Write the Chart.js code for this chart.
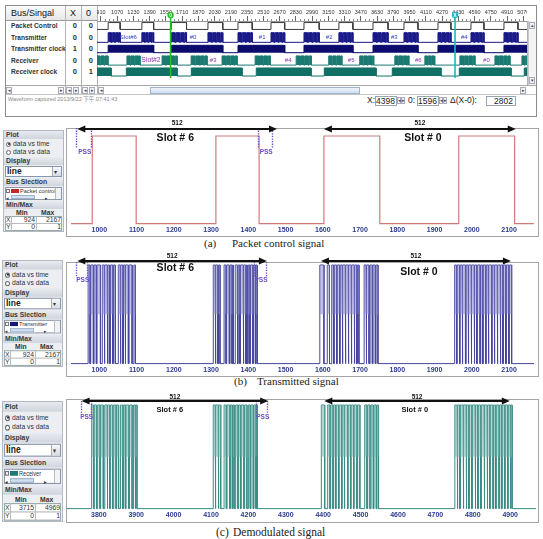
<!DOCTYPE html>
<html><head><meta charset="utf-8">
<script src="https://cdn.jsdelivr.net/npm/chart.js@4.4.1/dist/chart.umd.min.js"></script>
<style>
html,body{margin:0;padding:0;}
body{width:543px;height:539px;position:relative;overflow:hidden;background:#fff;font-family:Arial,"Liberation Sans",sans-serif;color:#222;}
.a{position:absolute;box-sizing:border-box;}
canvas{position:absolute;}
.rowlab{position:absolute;left:11px;font-size:6.6px;font-weight:bold;color:#333;line-height:8px;white-space:nowrap;}
.num{position:absolute;font-size:7.5px;font-weight:bold;color:#333;line-height:8px;text-align:right;width:10px;}
.pnl{position:absolute;width:61px;height:102px;background:#eceef2;border:1px solid #b4b8c2;transform-origin:0 0;box-sizing:border-box;}
.ph{position:absolute;left:0;width:59px;height:8px;background:linear-gradient(#e8ebf0,#d0d4dc);font-size:6.8px;font-weight:bold;color:#3a3a3a;line-height:8px;padding-left:2px;box-sizing:border-box;}
.pt{position:absolute;font-size:6.8px;color:#333;line-height:8px;white-space:nowrap;}
.cap{position:absolute;font-family:"Liberation Serif","Times New Roman",serif;color:#222;white-space:nowrap;line-height:12px;}
.box{position:absolute;background:#fff;border:1px solid #9aa3b2;box-sizing:border-box;font-size:8.5px;text-align:right;padding-right:2px;line-height:9px;color:#222;}
.sb{position:absolute;width:6px;height:7px;border:1px solid #aab;background:#f3f4f7;box-sizing:border-box;font-size:5px;line-height:5px;text-align:center;color:#445;}
</style></head><body>
<script>
// ---------------- DATA ----------------
// top waveform viewer
const topTickLabels = [910,1070,1230,1390,1550,1710,1870,2030,2190,2350,2510,2670,2830,2990,3150,3310,3470,3630,3790,3950,4110,4270,4430,4590,4750,4910,5070];
const topRange = [871, 5107];
const topSignalNames = ['Packet Control','Transmitter','Transmitter clock','Receiver','Receiver clock'];
const topColX = [0,0,1,0,0];
const topCol0 = [0,0,0,0,1];
const topPacketEdges = [981,1099,1313,1429,1603,1753,1964,2110,2260,2400,2585,2720,2910,3060,3254,3392,3590,3738,3895,4033,4230,4358,4555,4683,4880,5018];
const topTxEdges = [981,1012,1022,1044,1054,1078,1086,1099,
 1313,1340,1350,1372,1382,1408,1416,1429,
 1603,1640,1650,1686,1696,1726,1736,1753,
 1964,2000,2010,2040,2050,2080,2090,2110,
 2260,2292,2302,2334,2344,2372,2382,2400,
 2585,2616,2626,2656,2666,2694,2704,2720,
 2910,2944,2954,2990,3000,3030,3040,3060,
 3254,3286,3296,3326,3336,3366,3376,3392,
 3590,3624,3634,3668,3678,3710,3720,3738,
 3895,3926,3936,3966,3976,4006,4016,4033,
 4230,4260,4270,4300,4310,4336,4346,4358,
 4555,4586,4596,4626,4636,4662,4672,4683,
 4880,4914,4924,4956,4966,4996,5006,5018];
const topTxClkEdges = [981,1429,1603,2110,2260,2720,2910,3392,3590,4033,4230,4683,4880,5107];
const topRxEdges = [871,900,910,940,950,979,
 1166,1196,1206,1236,1246,1276,1284,1295,
 1512,1546,1556,1590,1600,1632,1642,1660,
 1798,1834,1844,1880,1890,1924,1934,1955,
 2103,2136,2146,2180,2190,2222,2232,2251,
 2429,2462,2472,2506,2516,2548,2558,2577,
 2833,2866,2876,2910,2920,2952,2962,2981,
 3154,3184,3194,3224,3234,3264,3272,3283,
 3459,3490,3500,3532,3542,3574,3584,3597,
 3805,3836,3846,3878,3888,3920,3930,3943,
 4101,4124,4134,4158,4168,4190,4196,4200,
 4446,4480,4490,4524,4534,4566,4576,4594,
 4791,4824,4834,4868,4878,4910,4920,4939,
 5057,5080,5090,5107];
const topRxClkEdges = [871,1010,1160,1660,1800,2300,2440,2980,3110,3620,3780,4260,4440,4950,5080,5107];
const topTxSlotLabels = ['Slot#6','#0','#1','#2','#3','#4'];
const topTxSlotAt = [1180,1817,2498,3158,3800,4490];
const topRxSlotLabels = ['Slot#2','#3','#4','#5','#6','#0'];
const topRxSlotAt = [1403,2015,2754,3375,4036,4707];
const cursor0 = 1596, cursorX = 4398, cursorDelta = 2802;

// (a) packet control
const pcRange = [924, 2167];
const pcTicks = [1000,1100,1200,1300,1400,1500,1600,1700,1800,1900,2000,2100];
const pcEdges = [981,1099,1313,1429,1603,1753,1965,2115];
const pcArrows = [[941,1477],[1603,2118]];
const pcPss = [[941,981],[1429,1467]];
const pcSlots = [['Slot # 6',1204],['Slot # 0',1869]];

// (b) transmitted
const txRange = [924, 2167];
const txTicks = [1000,1100,1200,1300,1400,1500,1600,1700,1800,1900,2000,2100];
const txEdges = [970,975,977,984,986,992,994,1003,
 1008,1013,1015,1021,1023,1027,1030,1036,1038,1043,
 1051,1056,1058,1063,1065,1069,1071,1078,1080,1088,
 1093,1097,
 1306,1311,1313,1318,1320,1324,
 1335,1340,1342,1349,1351,1356,1358,1360,
 1365,1371,1373,1377,1379,1386,1388,1393,1395,1397,
 1400,1404,1406,1412,1414,1419,1421,1424,
 1592,1603,1612,1618,
 1624,1629,1631,1637,1639,1645,1647,1652,1654,1660,1662,1668,1670,1676,1678,1684,1686,1691,1693,1697,
 1711,1716,1718,1724,1727,1733,1735,1741,1743,1748,
 1954,1959,1961,1967,1969,1974,1976,1983,1985,1990,1992,1998,2000,2006,2008,2013,2015,2022,2024,2029,
 2031,2037,2039,2044,2046,2053,2055,2060,2062,2068,2070,2076,2078,2083,2085,2091,2093,2099,2101,2107];
const txArrows = [[941,1450],[1595,2105]];
const txPss = [[941,970],[1418,1450]];
const txSlots = [['Slot # 6',1204],['Slot # 0',1858]];

// (c) demodulated
const rxRange = [3715, 4969];
const rxTicks = [3800,3900,4000,4100,4200,4300,4400,4500,4600,4700,4800,4900];
const rxEdges = [3781,3786,3788,3794,3797,3803,3805,3812,3816,3822,3824,3829,3831,3837,3840,3846,3848,3853,3858,3864,3866,3871,3873,3880,3882,3889,3893,3897,3899,3902,
 4106,4111,4113,4119,4121,4126,4135,4141,4143,4150,4152,4157,4159,4162,4166,4172,4174,4179,4181,4188,4190,4196,4200,4205,4207,4213,4215,4220,4222,4224,
 4395,4404,4412,4418,4420,4426,4428,4433,4435,4441,4443,4449,4451,4456,4458,4465,4467,4473,4475,4481,4483,4490,4492,4498,
 4511,4517,4519,4525,4528,4534,4536,4542,4544,4548,
 4752,4758,4760,4765,4767,4774,4776,4782,4784,4789,4791,4797,4799,4806,4808,4813,4815,4821,4823,4830,
 4832,4838,4840,4845,4847,4854,4856,4861,4863,4870,4872,4877,4879,4885,4887,4893,4895,4900,4902,4905];
const rxArrows = [[3754,4253],[4403,4899]];
const rxPss = [[3754,3781],[4224,4253]];
const rxSlots = [['Slot # 6',3990],['Slot # 0',4645]];

const spanLabel = '512';
const yRange = [0, 1];

// ---------------- helpers ----------------
function stepPoints(edges, xmin, xmax, lo, hi){
  let lvl = lo; const pts=[{x:xmin,y:lvl}];
  for(const t of edges){ pts.push({x:t,y:lvl}); lvl = (lvl===hi)?lo:hi; pts.push({x:t,y:lvl}); }
  pts.push({x:xmax,y:lvl}); return pts;
}
function el(html){ const d=document.createElement('div'); d.innerHTML=html; while(d.firstChild) document.body.appendChild(d.firstChild); }

// ---------------- TOP VIEWER (HTML frame) ----------------
let h='';
h+=`<div class="a" style="left:5px;top:5px;width:532px;height:112px;border:1px solid #8c8c8c;"></div>`;
h+=`<div class="a" style="left:6px;top:6px;width:91px;height:15px;background:linear-gradient(#fbfbfb,#e6e6e6);border-bottom:1px solid #9a9a9a;"></div>`;
h+=`<div class="a" style="left:11px;top:8px;font-size:9px;color:#111;line-height:11px;">Bus/Singal</div>`;
h+=`<div class="a" style="left:70px;top:8px;font-size:9px;color:#111;line-height:11px;">X</div>`;
h+=`<div class="a" style="left:86px;top:8px;font-size:9px;color:#111;line-height:11px;">0</div>`;
[65,81,97].forEach(x=>{h+=`<div class="a" style="left:${x}px;top:6px;width:1px;height:88px;background:#b4b4b4;"></div>`;});
h+=`<div class="a" style="left:527px;top:21px;width:1px;height:64px;background:#b4b4b4;"></div>`;
const rowCY=[26,38,49,61,72];
topSignalNames.forEach((n,i)=>{
  h+=`<div class="rowlab" style="top:${rowCY[i]-4}px">${n}</div>`;
  h+=`<div class="num" style="left:67px;top:${rowCY[i]-4}px">${topColX[i]}</div>`;
  h+=`<div class="num" style="left:83px;top:${rowCY[i]-4}px">${topCol0[i]}</div>`;
});
h+=`<div class="a" style="left:6px;top:85px;width:530px;height:1px;background:#a8a8a8;"></div>`;
h+=`<div class="a" style="left:6px;top:94px;width:530px;height:1px;background:#c4c4c4;"></div>`;
[[6,'◂'],[58,'▸'],[66,'◂'],[73,'▸'],[82,'◂'],[89,'▸'],[98,'◂'],[520,'▸']].forEach(([x,t])=>{h+=`<div class="sb" style="left:${x}px;top:87px">${t}</div>`;});
h+=`<div class="a" style="left:150px;top:87px;width:210px;height:7px;background:linear-gradient(#eef4fb,#cfdff0);border:1px solid #9fb3cc;"></div>`;
h+=`<div class="a" style="left:528px;top:21px;width:8px;height:64px;background:#f4f4f6;border-left:1px solid #c8c8c8;"></div>`;
h+=`<div class="sb" style="left:529px;top:22px;">▴</div><div class="sb" style="left:529px;top:77px;">▾</div>`;
h+=`<div class="a" style="left:8px;top:96px;font-size:5.5px;color:#888;line-height:7px;font-family:Arial,'Noto Sans CJK SC',sans-serif;">Waveform captured 2013/9/22 下午 07:41:43</div>`;
h+=`<div class="a" style="left:367px;top:96px;font-size:8.5px;line-height:9px;">X:</div>`;
h+=`<div class="box" style="left:375px;top:96px;width:22px;height:10px;">${cursorX}</div>`;
h+=`<div class="sb" style="left:397px;top:97px;width:4px;">◂</div><div class="sb" style="left:401px;top:97px;width:4px;">▸</div>`;
h+=`<div class="a" style="left:408px;top:96px;font-size:8.5px;line-height:9px;">0:</div>`;
h+=`<div class="box" style="left:417px;top:96px;width:22px;height:10px;">${cursor0}</div>`;
h+=`<div class="sb" style="left:439px;top:97px;width:4px;">◂</div><div class="sb" style="left:443px;top:97px;width:4px;">▸</div>`;
h+=`<div class="a" style="left:450px;top:96px;font-size:8.5px;line-height:9px;">Δ(X-0):</div>`;
h+=`<div class="box" style="left:486px;top:96px;width:30px;height:10px;">${cursorDelta}</div>`;
h+=`<div class="a" style="left:66px;top:128px;width:473px;height:109px;border:1px solid #a4a4a4;"></div>`;
h+=`<div class="a" style="left:66px;top:262px;width:473px;height:115px;border:1px solid #a4a4a4;"></div>`;
h+=`<div class="a" style="left:66px;top:399px;width:473px;height:124px;border:1px solid #a4a4a4;"></div>`;
h+=`<div class="cap" style="left:204px;top:237px;font-size:11px;">(a)</div><div class="cap" style="left:232px;top:237px;font-size:11px;">Packet control signal</div>`;
h+=`<div class="cap" style="left:234px;top:375px;font-size:11px;">(b)</div><div class="cap" style="left:257px;top:375px;font-size:11px;">Transmitted signal</div>`;
h+=`<div class="cap" style="left:216px;top:526px;font-size:11.5px;">(c)</div><div class="cap" style="left:233px;top:526px;font-size:11.5px;">Demodulated signal</div>`;
el(h);

// ---------------- LEFT CONTROL PANELS ----------------
function buildPanel(left, top, hgt, name, swatch, xr, yr){
  const circ=(t,on)=>`<div class="a" style="left:2px;top:${t}px;width:5px;height:5px;border:1px solid #6a6a6a;border-radius:50%;background:#fff;"></div>`+(on?`<div class="a" style="left:3.5px;top:${t+1.5}px;width:2px;height:2px;border-radius:50%;background:#222;"></div>`:'');
  let s=`<div class="pnl" style="left:${left}px;top:${top}px;transform:scale(1,${hgt/102});">`;
  s+=`<div class="ph" style="top:0">Plot</div>`;
  s+=circ(10.5,true)+`<div class="pt" style="left:9px;top:9px">data vs time</div>`;
  s+=circ(18.5,false)+`<div class="pt" style="left:9px;top:17px">data vs data</div>`;
  s+=`<div class="ph" style="top:26px">Display</div>`;
  s+=`<div class="a" style="left:1px;top:35px;width:57px;height:11px;background:#fff;border:1px solid #8a96aa;"></div>`;
  s+=`<div class="pt" style="left:3px;top:36px;font-size:8.5px;font-weight:bold;line-height:9px;color:#222">line</div>`;
  s+=`<div class="a" style="left:48px;top:36px;width:9px;height:9px;background:linear-gradient(#f6f7fa,#d6dbe3);border-left:1px solid #aab;"></div>`;
  s+=`<div class="pt" style="left:50px;top:36.5px;font-size:6px">▾</div>`;
  s+=`<div class="ph" style="top:47px">Bus Slection</div>`;
  s+=`<div class="a" style="left:1px;top:56px;width:57px;height:13px;background:#fff;border:1px solid #8a96aa;"></div>`;
  s+=`<div class="a" style="left:2px;top:57.5px;width:4px;height:4px;border:1px solid #777;background:#fff;"></div>`;
  s+=`<div class="a" style="left:7px;top:57.5px;width:8px;height:4px;background:${swatch};"></div>`;
  s+=`<div class="pt" style="left:16px;top:55.5px;font-size:5.6px;">${name}</div>`;
  s+=`<div class="a" style="left:51px;top:57px;width:6px;height:11px;background:#f1f2f5;border-left:1px solid #bbb;"></div>`;
  s+=`<div class="pt" style="left:2px;top:62.5px;font-size:5px;">◂</div>`;
  s+=`<div class="a" style="left:7px;top:64px;width:24px;height:3.5px;background:#d3e2f2;border:1px solid #9fb3cc;"></div>`;
  s+=`<div class="pt" style="left:41px;top:62.5px;font-size:5px;">▸</div>`;
  s+=`<div class="ph" style="top:70px">Min/Max</div>`;
  s+=`<div class="pt" style="left:12px;top:78px;font-weight:bold">Min</div><div class="pt" style="left:37px;top:78px;font-weight:bold">Max</div>`;
  s+=`<div class="a" style="left:1px;top:85px;width:57px;height:15px;background:#fff;border:1px solid #9aa;"></div>`;
  s+=`<div class="a" style="left:1px;top:92px;width:57px;height:1px;background:#bbb;"></div>`;
  s+=`<div class="a" style="left:7px;top:85px;width:1px;height:15px;background:#bbb;"></div>`;
  s+=`<div class="a" style="left:32px;top:85px;width:1px;height:15px;background:#bbb;"></div>`;
  s+=`<div class="pt" style="left:2px;top:85px;">X</div><div class="pt" style="left:2px;top:92px;">Y</div>`;
  s+=`<div class="pt" style="left:8px;top:85px;width:23px;text-align:right">${xr[0]}</div><div class="pt" style="left:33px;top:85px;width:24px;text-align:right">${xr[1]}</div>`;
  s+=`<div class="pt" style="left:8px;top:92px;width:23px;text-align:right">${yr[0]}</div><div class="pt" style="left:33px;top:92px;width:24px;text-align:right">${yr[1]}</div>`;
  s+=`</div>`;
  el(s);
}
buildPanel(3,130,102,'Packet control','#c4262a',pcRange,yRange);
buildPanel(2,260,107,'Transmitter','#15157c',txRange,yRange);
buildPanel(2,401,121,'Receiver','#1e7a72',rxRange,yRange);

// ---------------- CHARTS ----------------
function mkCanvas(left,top,w,hh){ const c=document.createElement('canvas'); c.width=w; c.height=hh; c.style.left=left+'px'; c.style.top=top+'px'; c.style.width=w+'px'; c.style.height=hh+'px'; document.body.appendChild(c); return c; }

const rowHalf=[0.3,0.42,0.32,0.4,0.35];
const rowC=i=>i+0.435;
const topSets=[
  {edges:topPacketEdges,col:'#3a3a3a',fill:false},
  {edges:topTxEdges,col:'#1a1a88',fill:true},
  {edges:topTxClkEdges,col:'#0b0b6e',fill:true},
  {edges:topRxEdges,col:'#1a7a72',fill:true},
  {edges:topRxClkEdges,col:'#117066',fill:true}
].map((s,i)=>{
  const lo=rowC(i)+rowHalf[i], hi=rowC(i)-rowHalf[i];
  return {data:stepPoints(s.edges,topRange[0],topRange[1],lo,hi),borderColor:s.col,borderWidth:1,pointRadius:0,tension:0,clip:false,
    fill:s.fill?{value:lo}:false, backgroundColor:s.col};
});
const topDeco={id:'topdeco',afterDatasetsDraw(chart){
  const ctx=chart.ctx, xs=chart.scales.x, ys=chart.scales.y, ca=chart.chartArea;
  ctx.save();
  ctx.strokeStyle='#888'; ctx.lineWidth=1;
  for(let k=0;k<topTickLabels.length-1;k++){
    for(let m=1;m<4;m++){ const v=topTickLabels[k]+(topTickLabels[k+1]-topTickLabels[k])*m/4; const px=Math.round(xs.getPixelForValue(v))+0.5;
      ctx.beginPath(); ctx.moveTo(px,ca.top-2); ctx.lineTo(px,ca.top); ctx.stroke(); }
  }
  ctx.textAlign='center'; ctx.textBaseline='middle';
  ctx.font='6px Arial'; ctx.fillStyle='#3442c8';
  topTxSlotLabels.forEach((t,i)=>ctx.fillText(t,xs.getPixelForValue(topTxSlotAt[i]),ys.getPixelForValue(rowC(1))));
  ctx.fillStyle='#8b35ad';
  topRxSlotLabels.forEach((t,i)=>{ctx.font=(i===0?'6.8px':'6px')+' Arial'; ctx.fillText(t,xs.getPixelForValue(topRxSlotAt[i]),ys.getPixelForValue(rowC(3)));});
  const cur=(v,col,lab)=>{const px=xs.getPixelForValue(v); ctx.strokeStyle=col; ctx.lineWidth=1.6; ctx.beginPath(); ctx.moveTo(px,8); ctx.lineTo(px,ca.top+57); ctx.stroke();
    ctx.fillStyle=col; ctx.beginPath(); ctx.arc(px,10,3.2,0,Math.PI*2); ctx.fill(); ctx.fillStyle='#fff'; ctx.font='bold 5px Arial'; ctx.fillText(lab,px,10.3);};
  cur(cursor0,'#22c022','0'); cur(cursorX,'#20b4c6','X');
  ctx.restore();
}};
new Chart(mkCanvas(97,5,430,80),{type:'line',data:{datasets:topSets},options:{
  responsive:false,animation:false,devicePixelRatio:1,events:[],
  layout:{padding:{top:3.4,left:0,right:0,bottom:0}},
  plugins:{legend:{display:false},tooltip:{enabled:false}},
  scales:{
    x:{type:'linear',position:'top',min:topRange[0],max:topRange[1],
      afterBuildTicks:s=>{s.ticks=topTickLabels.map(v=>({value:v}));},
      afterFit:s=>{s.paddingLeft=0;s.paddingRight=0;},
      grid:{display:true,drawOnChartArea:false,drawTicks:true,tickLength:5,color:'#666'},
      border:{display:true,color:'#999'},
      ticks:{autoSkip:false,maxRotation:0,padding:0.5,color:'#333',font:{size:5.5,family:'Arial'},callback:v=>String(v)}},
    y:{type:'linear',min:0,max:5.565,reverse:true,display:false}
  }},plugins:[topDeco]});

function makeAnnot(cfg){ return {id:'annot',afterDatasetsDraw(chart){
  const ctx=chart.ctx, xs=chart.scales.x, top=chart.chartArea.top, P=v=>xs.getPixelForValue(v);
  ctx.save();
  ctx.strokeStyle='#6a4cc8'; ctx.lineWidth=1.4; ctx.setLineDash([1.3,1.3]);
  for(const [a,b] of cfg.pss){ for(const v of [a,b]){ const px=Math.round(P(v))-0.5; ctx.beginPath(); ctx.moveTo(px,top+cfg.pssY0); ctx.lineTo(px,top+cfg.pssY1); ctx.stroke(); } }
  ctx.setLineDash([]);
  ctx.textAlign='center'; ctx.textBaseline='middle';
  ctx.fillStyle='#6a4cc8'; ctx.font='bold 6.5px Arial';
  for(const [a,b] of cfg.pss) ctx.fillText('PSS',(P(a)+P(b))/2,top+cfg.pssT);
  ctx.strokeStyle='#111'; ctx.fillStyle='#111'; ctx.lineWidth=2;
  for(const [a,b] of cfg.arrows){ const x1=P(a), x2=P(b), y=top+cfg.arrowY;
    ctx.beginPath(); ctx.moveTo(x1+5,y); ctx.lineTo(x2-5,y); ctx.stroke();
    ctx.beginPath(); ctx.moveTo(x1,y); ctx.lineTo(x1+8,y-3.5); ctx.lineTo(x1+8,y+3.5); ctx.closePath(); ctx.fill();
    ctx.beginPath(); ctx.moveTo(x2,y); ctx.lineTo(x2-8,y-3.5); ctx.lineTo(x2-8,y+3.5); ctx.closePath(); ctx.fill();
    ctx.font='bold 6.5px Arial'; ctx.fillText(spanLabel,(x1+x2)/2,top+cfg.numY);
  }
  ctx.font=cfg.slotFont;
  cfg.slots.forEach(([t,v],i)=>ctx.fillText(t,P(v),top+cfg.slotY[i]));
  ctx.restore();
}};}
function lower(left,top,w,hh,padTop,range,ticks,edges,line,fillc,lw,cfg){
  const sets=[];
  if(fillc){
    // upper-half shading of each high pulse (same edges, drawn between mid level and high level)
    sets.push({data:stepPoints(edges,range[0],range[1],0.5,yRange[1]),borderWidth:0,borderColor:'rgba(0,0,0,0)',pointRadius:0,tension:0,clip:false,
      fill:{value:0.5},backgroundColor:fillc});
  }
  sets.push({data:stepPoints(edges,range[0],range[1],yRange[0],yRange[1]),borderColor:line,borderWidth:lw,pointRadius:0,tension:0,clip:false,fill:false});
  return new Chart(mkCanvas(left,top,w,hh),{type:'line',data:{datasets:sets},
  options:{responsive:false,animation:false,devicePixelRatio:1,events:[],
    layout:{padding:{top:padTop,left:0,right:0,bottom:0}},
    plugins:{legend:{display:false},tooltip:{enabled:false}},
    scales:{
      x:{type:'linear',min:range[0],max:range[1],
        afterBuildTicks:s=>{s.ticks=ticks.map(v=>({value:v}));},
        afterFit:s=>{s.paddingLeft=0;s.paddingRight=0;},
        grid:{display:false,drawTicks:false},border:{display:false},
        ticks:{autoSkip:false,maxRotation:0,padding:2,color:'#2b3b8e',font:{size:7,weight:'bold',family:'Arial'},callback:v=>String(v)}},
      y:{type:'linear',min:yRange[0],max:yRange[1],display:false}
    }},plugins:[makeAnnot(cfg)]});
}
lower(71,118,463,118,18,pcRange,pcTicks,pcEdges,'#d07a7a',null,1.2,
  {pss:pcPss,arrows:pcArrows,slots:pcSlots,pssY0:-8,pssY1:12,pssT:16,arrowY:-7,numY:-13,slotY:[2,2],slotFont:'bold 10.5px Arial'});
lower(71,250,463,126,15,txRange,txTicks,txEdges,'#4646a0','rgba(140,140,205,0.55)',1,
  {pss:txPss,arrows:txArrows,slots:txSlots,pssY0:-3,pssY1:12,pssT:15,arrowY:-4,numY:-9,slotY:[3.5,7],slotFont:'bold 10.5px Arial'});
lower(67,390,469,131,15,rxRange,rxTicks,rxEdges,'#3a8c85','rgba(120,182,176,0.55)',1,
  {pss:rxPss,arrows:rxArrows,slots:rxSlots,pssY0:-4,pssY1:8,pssT:12,arrowY:-4,numY:-8,slotY:[5,5],slotFont:'bold 7.5px Arial'});
</script>
</body></html>
